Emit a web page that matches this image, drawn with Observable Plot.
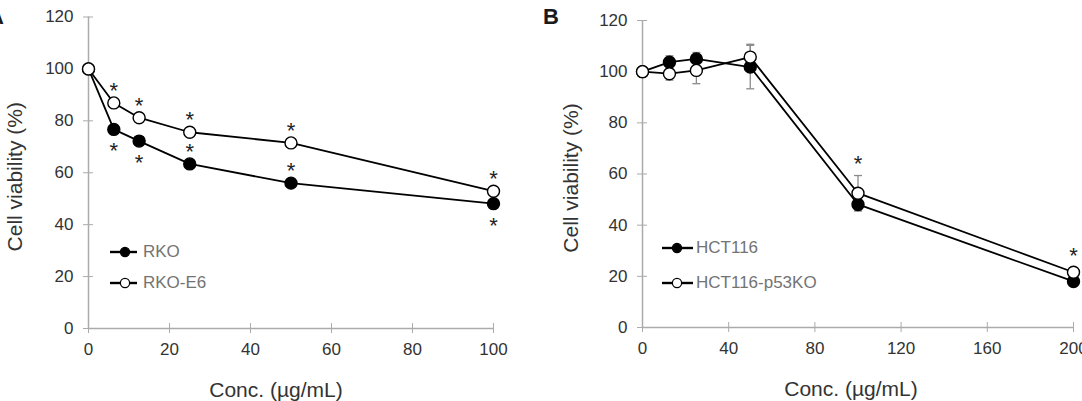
<!DOCTYPE html>
<html><head><meta charset="utf-8">
<script src="https://cdn.jsdelivr.net/npm/d3@7"></script>
<script src="https://cdn.jsdelivr.net/npm/@observablehq/plot@0.6"></script>
<style>
body{margin:0;background:#fff;font-family:"Liberation Sans",Arial,sans-serif;}
#wrap{position:relative;width:1082px;height:401px;overflow:hidden;background:#fff;}
.panel{position:absolute;top:0;height:401px;}
.plab{position:absolute;font-weight:bold;font-size:22px;color:#1a1a1a;line-height:1;}
.leg{position:absolute;height:20px;font-size:17px;color:#737373;display:flex;align-items:center;white-space:nowrap;}
.leg svg{display:block;}
</style></head><body><div id="wrap"></div>
<script>
// ---- Panel A data ----
const concA = [0, 6.25, 12.5, 25, 50, 100];
const rko = [100, 76.7, 72.2, 63.4, 56.0, 48.1];
const rkoE6 = [100, 86.9, 81.2, 75.6, 71.5, 52.9];
const sigRko = ["", "below", "below", "above", "above", "below"];
const sigRkoE6 = ["", "above", "above", "above", "above", "above"];
const seriesA = ["RKO", "RKO-E6"];

// ---- Panel B data ----
const concB = [0, 12.5, 25, 50, 100, 200];
const hct = [100, 103.7, 105.0, 101.8, 48.1, 18.0];
const hctErr = [0, 2.5, 2.5, 8.5, 2.5, 1.5];
const p53 = [100, 99.2, 100.5, 105.7, 52.5, 21.6];
const p53Err = [0, 2.5, 5.2, 5.0, 6.9, 1.5];
const sigP53 = ["", "", "", "", "above", "above"];
const seriesB = ["HCT116", "HCT116-p53KO"];

// ---- ticks & labels ----
const yTicks = [0, 20, 40, 60, 80, 100, 120];
const xTicksA = [0, 20, 40, 60, 80, 100];
const xTicksB = [0, 40, 80, 120, 160, 200];
const yLabel = "Cell viability (%)";
const xLabel = "Conc. (µg/mL)";
const panelLabels = ["A", "B"];

const FONT = '"Liberation Sans", Arial, sans-serif';
const AXIS = "#ababab";

function rowsOf(xs, ys, series, filled, errs, sig) {
  return xs.map((x, i) => ({x, y: ys[i], series, filled, e: errs ? errs[i] : 0, sig: sig ? sig[i] : ""}));
}

const capSymbol = {draw(ctx, size) { const r = Math.sqrt(size / Math.PI); ctx.moveTo(-r, 0); ctx.lineTo(r, 0); }};

function makePanel(o) {
  const rows = o.rows;
  const errRows = rows.filter(d => d.e > 0);
  const marks = [
    Plot.ruleX([0], {stroke: AXIS, strokeWidth: 1.5}),
    Plot.ruleY([0], {stroke: AXIS, strokeWidth: 1.5}),
    Plot.axisY({ticks: yTicks, tickSize: 10, dx: 5, tickPadding: 10, stroke: AXIS, fill: "#333", label: null, fontSize: 17}),
    Plot.axisX({ticks: o.xTicks, tickSize: 10, dy: -5, tickPadding: 9, stroke: AXIS, fill: "#333", label: null, fontSize: 17}),
    Plot.text([yLabel], {frameAnchor: "left", textAnchor: "middle", rotate: -90, dx: o.yTitleDx, dy: 4, fontSize: 21, fill: "#333", lineAnchor: "middle"}),
    Plot.text([xLabel], {frameAnchor: "bottom", textAnchor: "middle", dx: o.xTitleDx, dy: 62, fontSize: 21, fill: "#333", lineAnchor: "middle"}),
  ];
  if (errRows.length) {
    marks.push(
      Plot.ruleX(errRows, {x: "x", y1: d => d.y - d.e, y2: d => d.y + d.e, stroke: "#8a8a8a", strokeWidth: 1.3}),
      Plot.dot(errRows, {x: "x", y: d => d.y + d.e, symbol: capSymbol, r: 4, stroke: "#8a8a8a", strokeWidth: 1.3}),
      Plot.dot(errRows, {x: "x", y: d => d.y - d.e, symbol: capSymbol, r: 4, stroke: "#8a8a8a", strokeWidth: 1.3})
    );
  }
  marks.push(
    Plot.line(rows, {x: "x", y: "y", z: "series", stroke: "black", strokeWidth: 1.8}),
    Plot.dot(rows.filter(d => d.filled), {x: "x", y: "y", r: 6, fill: "black", stroke: "black", strokeWidth: 1.4}),
    Plot.dot(rows.filter(d => !d.filled), {x: "x", y: "y", r: 6, fill: "white", stroke: "black", strokeWidth: 1.4}),
    Plot.text(rows.filter(d => d.sig === "above"), {x: "x", y: d => d.y + d.e, text: () => "*", dy: -12, fontSize: 22, fill: "#222", lineAnchor: "middle"}),
    Plot.text(rows.filter(d => d.sig === "below"), {x: "x", y: "y", text: () => "*", dy: 22, fontSize: 22, fill: "#222", lineAnchor: "middle"})
  );
  return Plot.plot({
    width: o.width, height: 401,
    marginLeft: o.ml, marginRight: o.mr, marginTop: o.mt, marginBottom: o.mb,
    style: {fontFamily: FONT, fontSize: "17px", background: "transparent", overflow: "visible"},
    x: {domain: o.xDomain},
    y: {domain: [0, 120]},
    marks
  });
}

const wrap = document.getElementById("wrap");

function addPanel(left, width, svg) {
  const d = document.createElement("div");
  d.className = "panel"; d.style.left = left + "px"; d.style.width = width + "px";
  d.appendChild(svg); wrap.appendChild(d);
}

const rowsA = [...rowsOf(concA, rko, seriesA[0], true, null, sigRko), ...rowsOf(concA, rkoE6, seriesA[1], false, null, sigRkoE6)];
const rowsB = [...rowsOf(concB, hct, seriesB[0], true, hctErr, null), ...rowsOf(concB, p53, seriesB[1], false, p53Err, sigP53)];

addPanel(0, 541, makePanel({width: 541, ml: 88, mr: 48, mt: 16.5, mb: 73, xDomain: [0, 100], xTicks: xTicksA, rows: rowsA, yTitleDx: -73, xTitleDx: -15}));
addPanel(541, 541, makePanel({width: 541, ml: 101, mr: 9, mt: 20, mb: 74, xDomain: [0, 200], xTicks: xTicksB, rows: rowsB, yTitleDx: -71, xTitleDx: -7}));

// panel letters
[[panelLabels[0], -12, 6], [panelLabels[1], 543, 6]].forEach(([t, l, tp]) => {
  const d = document.createElement("div"); d.className = "plab";
  d.style.left = l + "px"; d.style.top = tp + "px"; d.textContent = t; wrap.appendChild(d);
});

// legends
function legendItem(name, filled, left, cy, lineW, cx, gap) {
  const d = document.createElement("div"); d.className = "leg";
  d.style.left = left + "px"; d.style.top = (cy - 10) + "px";
  const ns = "http://www.w3.org/2000/svg";
  const s = document.createElementNS(ns, "svg");
  s.setAttribute("width", lineW); s.setAttribute("height", 20);
  const ln = document.createElementNS(ns, "line");
  ln.setAttribute("x1", 0); ln.setAttribute("x2", lineW); ln.setAttribute("y1", 10); ln.setAttribute("y2", 10);
  ln.setAttribute("stroke", "black"); ln.setAttribute("stroke-width", 2.4);
  const c = document.createElementNS(ns, "circle");
  c.setAttribute("cx", cx); c.setAttribute("cy", 10); c.setAttribute("r", 4.6);
  c.setAttribute("fill", filled ? "black" : "white"); c.setAttribute("stroke", "black"); c.setAttribute("stroke-width", 1.2);
  s.appendChild(ln); s.appendChild(c); d.appendChild(s);
  const sp = document.createElement("span"); sp.textContent = name; sp.style.marginLeft = gap + "px";
  d.appendChild(sp); wrap.appendChild(d);
}
legendItem(seriesA[0], true, 110, 252, 27, 15, 6);
legendItem(seriesA[1], false, 110, 283, 27, 15, 6);
legendItem(seriesB[0], true, 662, 248, 31, 15, 3);
legendItem(seriesB[1], false, 662, 283, 31, 15, 3);
</script></body></html>
